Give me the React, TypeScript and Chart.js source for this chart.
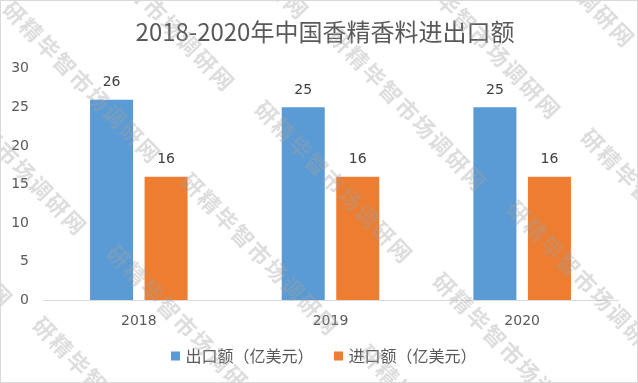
import { useEffect, useRef } from "react";
import { Chart, registerables } from "chart.js";

Chart.register(...registerables);

const categories = ["2018", "2019", "2020"];
const exportValues = [26, 25, 25];
const importValues = [16, 16, 16];
const seriesNames = ["出口额（亿美元）", "进口额（亿美元）"];
const titleText = "2018-2020年中国香精香料进出口额";
const watermarkText = "研精毕智市场调研网";
const yMin = 0;
const yMax = 30;
const yStep = 5;

const NUM_FONT = '"DejaVu Sans", "Noto Sans CJK SC", sans-serif';
const CJK_FONT = '"Noto Sans CJK SC", sans-serif';

const dataLabels = {
  id: "dataLabels",
  afterDatasetsDraw(chart: any) {
    const ctx = chart.ctx;
    ctx.save();
    ctx.font = `14px ${NUM_FONT}`;
    ctx.fillStyle = "#404040";
    ctx.textAlign = "center";
    ctx.textBaseline = "middle";
    chart.data.datasets.forEach((ds: any, i: number) => {
      const meta = chart.getDatasetMeta(i);
      meta.data.forEach((el: any, j: number) => {
        ctx.fillText(String(ds.data[j]), el.x, el.y - 17);
      });
    });
    ctx.restore();
  },
};

const watermark = {
  id: "watermark",
  afterDraw(chart: any) {
    const ctx = chart.ctx;
    const chars = Array.from(watermarkText);
    ctx.save();
    ctx.font = `bold 22px ${CJK_FONT}`;
    ctx.fillStyle = "rgba(160,160,160,0.36)";
    ctx.textBaseline = "top";
    ctx.textAlign = "left";
    const ox = 14;
    const oy = -4;
    const u = [178, 172];
    const w = [252, 100];
    const ang = (46 * Math.PI) / 180;
    for (let a = -4; a <= 6; a++) {
      for (let b = -4; b <= 6; b++) {
        const x = ox + a * u[0] + b * w[0];
        const y = oy + a * u[1] + b * w[1];
        if (x < -260 || x > 660 || y < -260 || y > 400) continue;
        ctx.save();
        ctx.translate(x, y);
        ctx.rotate(ang);
        chars.forEach((c, k) => ctx.fillText(c, k * 24, 0));
        ctx.restore();
      }
    }
    ctx.restore();
  },
};

export default function App() {
  const ref = useRef<HTMLCanvasElement | null>(null);

  useEffect(() => {
    document.body.style.margin = "0";
    if (!ref.current) return;
    const noClip = (s: any) => {
      s._computeLabelArea = () => undefined;
    };
    const chart = new Chart(ref.current, {
      type: "bar",
      data: {
        labels: categories,
        datasets: [
          {
            label: seriesNames[0],
            data: exportValues,
            backgroundColor: "#5B9BD5",
            categoryPercentage: 0.569,
            barPercentage: 0.789,
          },
          {
            label: seriesNames[1],
            data: importValues,
            backgroundColor: "#ED7D31",
            categoryPercentage: 0.569,
            barPercentage: 0.789,
          },
        ],
      },
      options: {
        animation: false,
        responsive: false,
        maintainAspectRatio: false,
        layout: { padding: { left: 31, right: 19, top: 0, bottom: 8 } },
        plugins: {
          title: {
            display: true,
            text: titleText,
            color: "#595959",
            font: { family: CJK_FONT, size: 24, weight: "normal" },
            padding: { top: 16, bottom: 23 },
          },
          legend: {
            position: "bottom",
            labels: {
              usePointStyle: true,
              pointStyle: "rect",
              boxWidth: 4,
              boxHeight: 9,
              padding: 23,
              color: "#595959",
              font: { family: CJK_FONT, size: 16 },
            },
          },
          tooltip: { enabled: false },
        },
        scales: {
          x: {
            grid: { display: false, drawTicks: false },
            border: { display: true, color: "#d9d9d9", width: 1 },
            ticks: {
              color: "#595959",
              font: { family: NUM_FONT, size: 14 },
              padding: 13,
            },
            afterFit: (s: any) => {
              s.height = 25;
              noClip(s);
            },
          },
          y: {
            min: yMin,
            max: yMax,
            ticks: {
              stepSize: yStep,
              color: "#595959",
              font: { family: NUM_FONT, size: 14 },
              padding: 14,
            },
            grid: { display: false, drawTicks: false },
            border: { display: false },
            afterFit: (s: any) => {
              s.width = 11;
              noClip(s);
            },
          },
        },
      },
      plugins: [dataLabels, watermark],
    } as any);
    return () => chart.destroy();
  }, []);

  return (
    <div
      style={{
        position: "absolute",
        left: 0,
        top: 0,
        width: 638,
        height: 383,
        boxSizing: "border-box",
        border: "1px solid #d9d9d9",
        background: "#ffffff",
      }}
    >
      <canvas ref={ref} width={636} height={381} style={{ display: "block" }} />
    </div>
  );
}
